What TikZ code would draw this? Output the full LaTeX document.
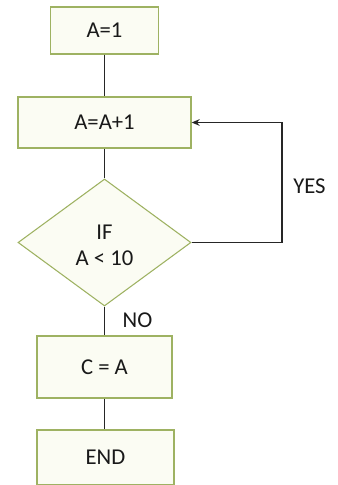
\documentclass[tikz,border=0pt]{standalone}
\usepackage{fontspec}
\setmainfont{Carlito}
\usetikzlibrary{shapes.geometric,arrows.meta}
\definecolor{boxedge}{RGB}{158,178,98}
\definecolor{boxfill}{RGB}{251,252,243}
\definecolor{txt}{RGB}{25,25,25}
\begin{document}
\begin{tikzpicture}[x=0.75pt,y=-0.75pt,
  procbox/.style={draw=boxedge,fill=boxfill,line width=1pt,inner sep=0pt,text=txt,font=\fontsize{17}{19.5}\selectfont},
  decbox/.style={draw=boxedge,fill=boxfill,line width=0.8pt,shape=diamond,inner sep=0pt},
  dectxt/.style={text=txt,align=center,inner sep=0pt,font=\fontsize{17}{19.5}\selectfont},
  conn/.style={draw=black!85,line width=0.9pt},
  lbl/.style={text=txt,font=\fontsize{17}{19}\selectfont}]
\useasboundingbox (0,0) rectangle (338,485);
\node[procbox,minimum width=108*0.75pt,minimum height=47*0.75pt] (a1) at (104.5,30.5) {A=1};
\node[procbox,minimum width=173*0.75pt,minimum height=51*0.75pt] (inc) at (104.5,122.5) {A=A+1};
\node[decbox,minimum width=173*0.75pt,minimum height=127*0.75pt] (dec) at (104.5,242.5) {};
\node[dectxt] (dect) at (104.5,245.5) {IF\\A < 10};
\node[procbox,minimum width=135*0.75pt,minimum height=62*0.75pt] (c) at (104.5,367) {C = A};
\node[procbox,minimum width=137*0.75pt,minimum height=55*0.75pt] (end) at (105.5,457.5) {END};
\coordinate (r1) at (282,242.5);
\coordinate (r2) at (282,122.5);
\draw[conn] (a1.south) -- (a1.south |- inc.north);
\draw[conn] (inc.south) -- (dec.north);
\draw[conn] (dec.south) -- (dec.south |- c.north);
\draw[conn] (c.south) -- (c.south |- end.north);
\draw[conn,-{Stealth[length=6pt,width=5pt]}] (dec.east) -- (r1) -- (r2) -- (inc.east);
\node[lbl] (yes) at (309.5,186) {YES};
\node[lbl] (no) at (137.5,320.5) {NO};
\end{tikzpicture}
\end{document}
